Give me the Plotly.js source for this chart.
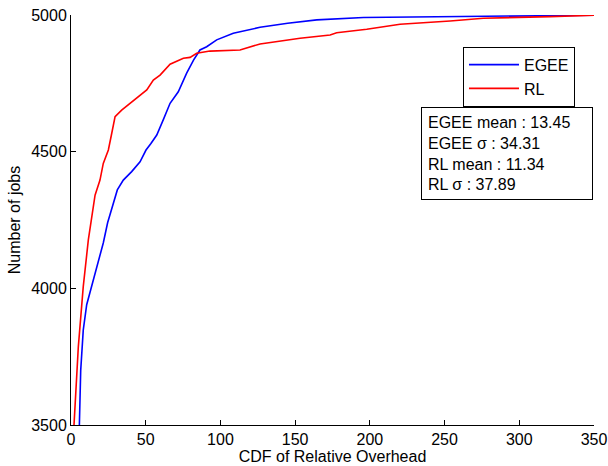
<!DOCTYPE html>
<html>
<head>
<meta charset="utf-8">
<script src="https://cdn.plot.ly/plotly-3.0.1.min.js"></script>
<style>html,body{margin:0;padding:0;background:#fff;}#chart{width:608px;height:466px;}</style>
</head>
<body>
<div id="chart"></div>
<script>
const egeeX = [5, 5.6, 6.5, 8.2, 10.5, 13.8, 17.5, 21.6, 24.5, 27.2, 31, 35, 40.6, 46.2, 50.2, 53.5, 57.4, 62, 66.3, 71.8, 77.4, 82, 86.3, 90.8, 97.5, 108.6, 117.6, 126.5, 145, 164.5, 195.7, 250, 300, 350];
const egeeY = [3450, 3500, 3700, 3847, 3940, 4006, 4090, 4166, 4240, 4294, 4360, 4396, 4427, 4463, 4506, 4530, 4561, 4620, 4677, 4719, 4787, 4835, 4872, 4884, 4909, 4933, 4945, 4955, 4970, 4982, 4991, 4994, 4996, 4999];
const rlX = [1.5, 2, 4.9, 8.2, 11.6, 16.1, 19.4, 21.6, 25, 27, 29.5, 33.9, 37.3, 46.2, 50.7, 55.1, 59.6, 66.3, 75.2, 79.7, 84.1, 93, 113.1, 126.5, 142.1, 153.3, 173.4, 177.8, 197.9, 220.2, 253.7, 276, 320.6, 350];
const rlY = [3450, 3500, 3786, 4006, 4177, 4341, 4396, 4457, 4506, 4560, 4628, 4652, 4667, 4707, 4726, 4762, 4780, 4820, 4842, 4845, 4860, 4868, 4872, 4894, 4906, 4915, 4927, 4935, 4948, 4966, 4978, 4988, 4994, 4999];
const xTicks = [0, 50, 100, 150, 200, 250, 300, 350];
const yTicks = [3500, 4000, 4500, 5000];
const statsText = ["EGEE mean : 13.45", "EGEE σ : 34.31", "RL mean : 11.34", "RL σ : 37.89"];

const FONT = "Liberation Sans, Arial, sans-serif";
const traces = [
  {x: egeeX, y: egeeY, type: "scatter", mode: "lines", name: "EGEE", line: {color: "#0000ff", width: 1.6}},
  {x: rlX, y: rlY, type: "scatter", mode: "lines", name: "RL", line: {color: "#ff0000", width: 1.6}}
];
const layout = {
  width: 608, height: 466,
  margin: {l: 71, r: 14, t: 15, b: 41, pad: 0},
  paper_bgcolor: "#fff", plot_bgcolor: "#fff",
  font: {family: FONT, size: 16, color: "#000"},
  showlegend: true,
  legend: {x: 0.7495, y: 0.9227, xanchor: "left", yanchor: "top", bordercolor: "#000", borderwidth: 1, bgcolor: "#fff",
           font: {family: FONT, size: 16, color: "#000"}, itemwidth: 50, tracegroupgap: 0},
  xaxis: {range: [0, 350], tickvals: xTicks, ticktext: xTicks.map(String), ticks: "inside", ticklen: 5, tickcolor: "#000",
          showline: true, linecolor: "#000", linewidth: 1, showgrid: false, zeroline: false, fixedrange: true,
          tickfont: {family: FONT, size: 16}, title: {text: "CDF of Relative Overhead", font: {family: FONT, size: 16}, standoff: 2}},
  yaxis: {range: [3500, 5000], tickvals: yTicks, ticktext: yTicks.map(String), ticks: "inside", ticklen: 5, tickcolor: "#000",
          showline: true, linecolor: "#000", linewidth: 1, showgrid: false, zeroline: false, fixedrange: true,
          tickfont: {family: FONT, size: 16}, title: {text: "Number of jobs", font: {family: FONT, size: 16}, standoff: 6}},
  annotations: [{
    xref: "paper", yref: "paper", x: 0.669, y: 0.7756, xanchor: "left", yanchor: "top",
    text: statsText.join("<br>"), showarrow: false, align: "left", width: 158,
    bordercolor: "#000", borderwidth: 1, borderpad: 6, bgcolor: "#fff",
    font: {family: FONT, size: 16, color: "#000"}
  }]
};
Plotly.newPlot("chart", traces, layout, {staticPlot: true, displayModeBar: false});
</script>
</body>
</html>
